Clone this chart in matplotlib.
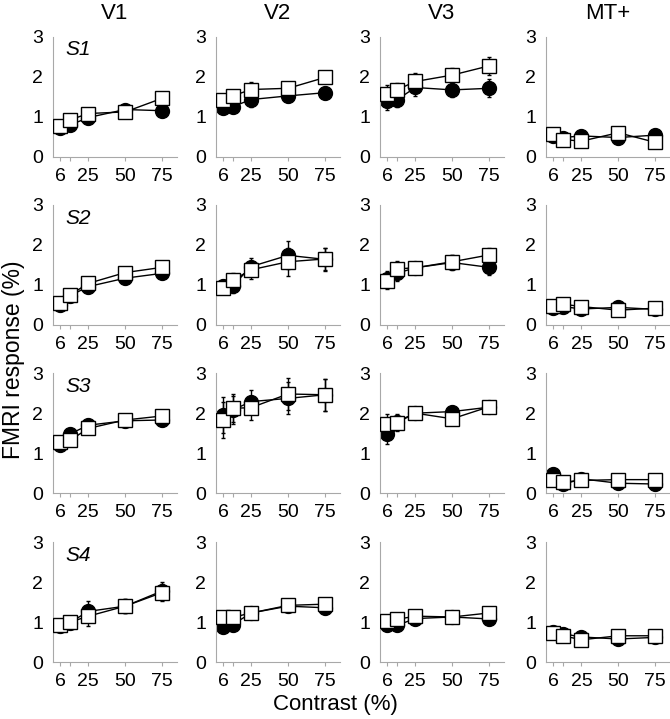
import matplotlib
matplotlib.use("Agg")
import matplotlib.pyplot as plt

plt.rcParams['font.family'] = ['Liberation Sans', 'DejaVu Sans']

contrast = [6, 12.5, 25, 50, 75]
regions = ["V1", "V2", "V3", "MT+"]
subjects = ["S1", "S2", "S3", "S4"]

# filled circles, one row per subject
v1_circ = [[0.71, 0.79, 0.98, 1.18, 1.15],
           [0.50, 0.73, 0.96, 1.17, 1.29],
           [1.20, 1.48, 1.70, 1.81, 1.83],
           [0.90, 0.99, 1.27, 1.40, 1.78]]
v2_circ = [[1.21, 1.25, 1.43, 1.52, 1.60],
           [0.98, 0.98, 1.46, 1.74, 1.64],
           [1.95, 2.08, 2.29, 2.37, 2.46],
           [0.88, 0.94, 1.23, 1.40, 1.36]]
v3_circ = [[1.40, 1.42, 1.73, 1.67, 1.71],
           [1.14, 1.29, 1.43, 1.56, 1.44],
           [1.49, 1.79, 2.00, 2.04, 2.15],
           [0.94, 0.92, 1.09, 1.13, 1.08]]
mt_circ = [[0.52, 0.48, 0.52, 0.48, 0.54],
           [0.42, 0.46, 0.40, 0.44, 0.39],
           [0.47, 0.22, 0.36, 0.25, 0.23],
           [0.76, 0.71, 0.63, 0.58, 0.62]]

# open squares
v1_sq = [[0.77, 0.92, 1.08, 1.12, 1.46],
         [0.56, 0.75, 1.04, 1.31, 1.44],
         [1.28, 1.32, 1.62, 1.83, 1.93],
         [0.92, 1.00, 1.15, 1.40, 1.74]]
v2_sq = [[1.43, 1.52, 1.68, 1.71, 1.98],
         [0.92, 1.12, 1.38, 1.58, 1.65],
         [1.83, 2.12, 2.14, 2.48, 2.46],
         [1.13, 1.12, 1.23, 1.42, 1.45]]
v3_sq = [[1.56, 1.67, 1.88, 2.04, 2.27],
         [1.10, 1.40, 1.43, 1.58, 1.75],
         [1.73, 1.76, 2.00, 1.86, 2.16],
         [1.04, 1.07, 1.15, 1.13, 1.23]]
mt_sq = [[0.57, 0.43, 0.39, 0.60, 0.36],
         [0.47, 0.52, 0.46, 0.37, 0.42],
         [0.34, 0.28, 0.32, 0.34, 0.34],
         [0.74, 0.66, 0.56, 0.66, 0.66]]

# error bars (rough)
v1_err = [[0.10, 0.08, 0.06, 0.08, 0.10],
          [0.06, 0.06, 0.08, 0.10, 0.10],
          [0.08, 0.10, 0.06, 0.12, 0.15],
          [0.06, 0.06, 0.25, 0.18, 0.22]]
v2_err = [[0.12, 0.12, 0.18, 0.15, 0.10],
          [0.15, 0.18, 0.22, 0.35, 0.28],
          [0.45, 0.35, 0.30, 0.40, 0.40],
          [0.08, 0.08, 0.15, 0.08, 0.12]]
v3_err = [[0.22, 0.18, 0.22, 0.18, 0.22],
          [0.20, 0.20, 0.15, 0.18, 0.18],
          [0.25, 0.20, 0.10, 0.08, 0.12],
          [0.06, 0.06, 0.06, 0.06, 0.08]]
mt_err = [[0.08, 0.05, 0.05, 0.05, 0.05],
          [0.04, 0.04, 0.04, 0.04, 0.04],
          [0.06, 0.05, 0.05, 0.05, 0.08],
          [0.08, 0.15, 0.06, 0.06, 0.08]]

circ = [v1_circ, v2_circ, v3_circ, mt_circ]
sq = [v1_sq, v2_sq, v3_sq, mt_sq]
errs = [v1_err, v2_err, v3_err, mt_err]

fig = plt.figure(figsize=(6.70, 7.19), dpi=100)

lefts = [0.079, 0.322, 0.567, 0.815]
bottoms = [0.782, 0.548, 0.314, 0.079]
w, h = 0.185, 0.167
gray = "#a8a8a8"

for r in range(4):
    for c in range(4):
        ax = fig.add_axes([lefts[c], bottoms[r], w, h])
        e = errs[c][r]
        ax.errorbar(contrast, circ[c][r], yerr=e, color="black", lw=1,
                    marker="o", ms=10, mfc="black", mec="black",
                    elinewidth=1, capsize=1.5, zorder=2)
        ax.errorbar(contrast, sq[c][r], yerr=e, color="black", lw=1,
                    marker="s", ms=10, mfc="white", mec="black", mew=1,
                    elinewidth=1, capsize=1.5, zorder=3)
        ax.set_xlim(1, 85)
        ax.set_ylim(0, 3)
        ax.set_xticks(contrast)
        ax.set_xticklabels(["6", "", "25", "50", "75"])
        ax.set_yticks([0, 1, 2, 3])
        ax.tick_params(axis="x", length=3, color=gray, labelsize=14, pad=5)
        ax.tick_params(axis="y", length=0, labelsize=14, pad=7)
        for s in ["top", "right"]:
            ax.spines[s].set_visible(False)
        for s in ["left", "bottom"]:
            ax.spines[s].set_color(gray)
            ax.spines[s].set_linewidth(0.8)
        if c == 0:
            ax.text(0.1, 0.97, subjects[r], transform=ax.transAxes,
                    fontsize=15, style="italic", va="top", ha="left")
        if r == 0:
            ax.set_title(regions[c], fontsize=16, pad=13)

fig.text(0.02, 0.5, "FMRI response (%)", rotation=90, va="center",
         ha="center", fontsize=16.5)
fig.text(0.5, 0.02, "Contrast (%)", va="center", ha="center", fontsize=16)

fig.savefig("out.png", dpi=100)
